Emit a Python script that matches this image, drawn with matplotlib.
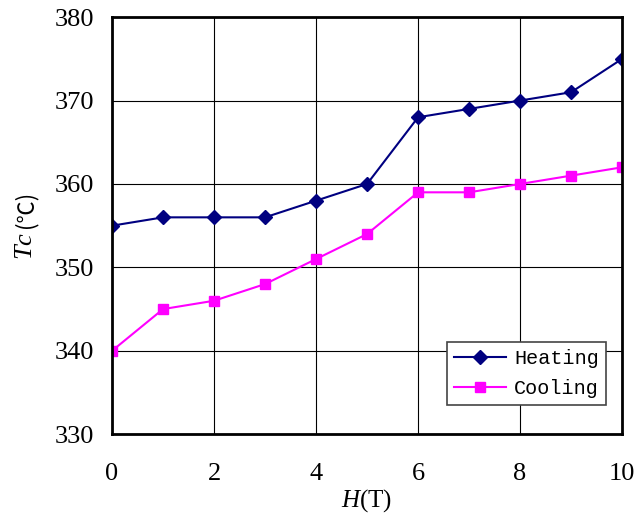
import matplotlib; matplotlib.use("Agg")
import matplotlib.pyplot as plt

plt.rcParams["font.family"] = ["Liberation Serif", "DejaVu Serif"]
plt.rcParams["mathtext.fontset"] = "custom"
plt.rcParams["mathtext.it"] = "Liberation Serif:italic"
plt.rcParams["mathtext.rm"] = "Liberation Serif"

H = [0, 1, 2, 3, 4, 5, 6, 7, 8, 9, 10]
heating = [355, 356, 356, 356, 358, 360, 368, 369, 370, 371, 375]
cooling = [340, 345, 346, 348, 351, 354, 359, 359, 360, 361, 362]

fig = plt.figure(figsize=(6.44, 5.2), dpi=100)
ax = fig.add_axes([0.174, 0.165, 0.792, 0.802])

ax.plot(H, heating, "-D", color="#000080", ms=7.5, lw=1.5, label="Heating")
ax.plot(H, cooling, "-s", color="#ff00ff", ms=7.5, lw=1.5, label="Cooling")

ax.set_xlim(0, 10); ax.set_ylim(330, 380)
ax.set_xticks(range(0, 11, 2)); ax.set_yticks(range(330, 381, 10))
ax.grid(True, color="black", lw=0.8)
ax.tick_params(length=0, labelsize=19)
ax.tick_params(axis="x", pad=21)
ax.tick_params(axis="y", pad=13)
for s in ax.spines.values(): s.set_linewidth(2)

ax.set_xlabel("$H$(T)", fontsize=18, labelpad=1)
fig.text(0.040, 0.527, "$Tc$", rotation=90, fontsize=19, va="center", ha="center")
fig.text(0.040, 0.598, "(℃)", rotation=90, fontsize=16, va="center", ha="center",
         family=["Noto Sans CJK SC", "DejaVu Sans"])

leg = ax.legend(loc="lower right", bbox_to_anchor=(0.969, 0.07), fancybox=False,
                edgecolor="#444444", framealpha=1, borderaxespad=0,
                prop={"family": "Liberation Mono", "size": 14.5},
                handlelength=2.6, handletextpad=0.4, labelspacing=0.55,
                borderpad=0.35)
leg.get_frame().set_linewidth(1.2)

plt.savefig("out.png", dpi=100)
